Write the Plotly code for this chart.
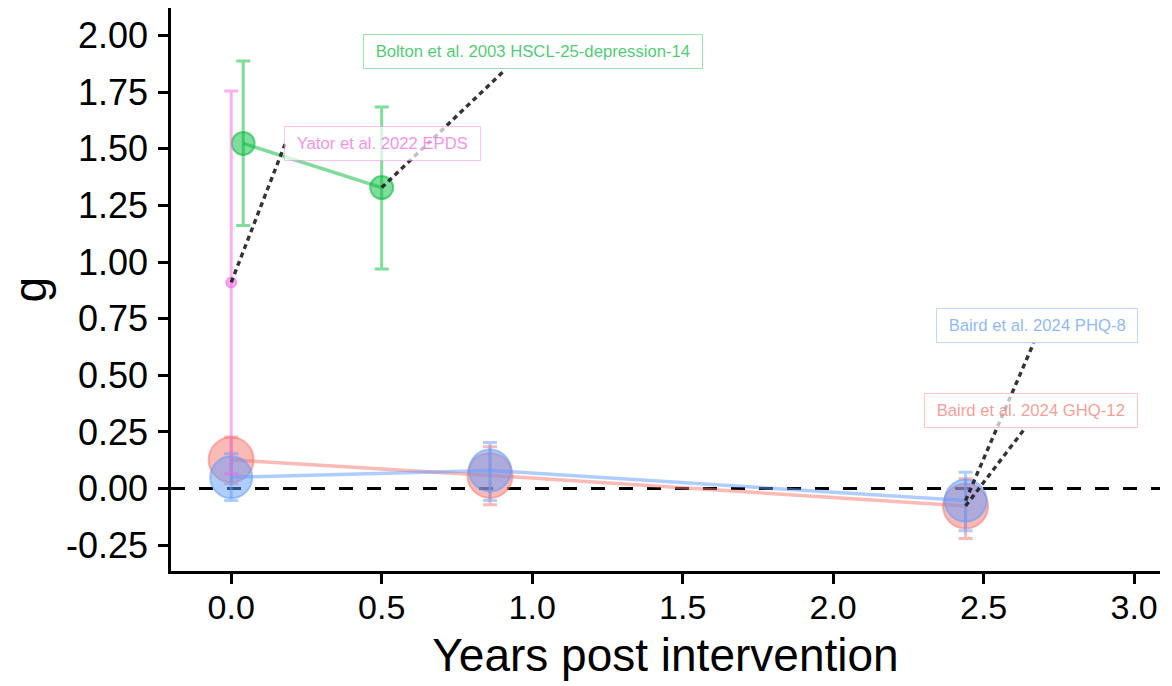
import plotly.graph_objects as go

# ---------------- data ----------------
years_ghq = [0.0, 0.86, 2.44]
g_ghq = [0.127, 0.058, -0.077]
lo_ghq = [0.021, -0.072, -0.220]
hi_ghq = [0.228, 0.185, 0.043]

years_phq = [0.0, 0.86, 2.44]
g_phq = [0.050, 0.080, -0.053]
lo_phq = [-0.053, -0.053, -0.186]
hi_phq = [0.154, 0.203, 0.072]

years_bolton = [0.04, 0.5]
g_bolton = [1.524, 1.329]
lo_bolton = [1.162, 0.970]
hi_bolton = [1.888, 1.685]

years_yator = [0.0]
g_yator = [0.910]
lo_yator = [0.065]
hi_yator = [1.755]

labels = ["Baird et al. 2024 GHQ-12", "Baird et al. 2024 PHQ-8",
          "Bolton et al. 2003 HSCL-25-depression-14", "Yator et al. 2022 EPDS"]

x_ticks = [0.0, 0.5, 1.0, 1.5, 2.0, 2.5, 3.0]
y_ticks = [-0.25, 0.0, 0.25, 0.5, 0.75, 1.0, 1.25, 1.5, 1.75, 2.0]

x_title = "Years post intervention"
y_title = "g"

# ---------------- style / layout constants ----------------
rgb = {"ghq": (248, 118, 109), "phq": (97, 156, 255),
       "bolton": (0, 186, 56), "yator": (245, 100, 227)}
msize = {"ghq": 45, "phq": 42, "bolton": 23, "yator": 10}
label_pos = {"ghq": (2.656, 0.344), "phq": (2.676, 0.718),
             "bolton": (1.003, 1.929), "yator": (0.503, 1.525)}
conn_end = {"ghq": (2.638, 0.267), "phq": (2.666, 0.642),
            "bolton": (0.91, 1.849), "yator": (0.179, 1.521)}

FONT = "Liberation Sans, Arial, Helvetica, sans-serif"
MARGIN_L = 171
PLOT_W = 1172 - MARGIN_L - 12


def rgba(c, a):
    return f"rgba({c[0]},{c[1]},{c[2]},{a})"


series = [
    ("ghq", years_ghq, g_ghq, lo_ghq, hi_ghq, labels[0]),
    ("phq", years_phq, g_phq, lo_phq, hi_phq, labels[1]),
    ("bolton", years_bolton, g_bolton, lo_bolton, hi_bolton, labels[2]),
    ("yator", years_yator, g_yator, lo_yator, hi_yator, labels[3]),
]

fig = go.Figure()

# zero reference line
fig.add_trace(go.Scatter(x=[-0.2, 3.1], y=[0, 0], mode="lines",
                         line=dict(color="black", width=3, dash="14px,14px"),
                         hoverinfo="skip", showlegend=False))

for key, xs, ys, lo, hi, name in series:
    c = rgb[key]
    fig.add_trace(go.Scatter(
        x=xs, y=ys, mode="lines+markers", name=name, showlegend=False,
        line=dict(color=rgba(c, 0.5), width=3.5),
        marker=dict(size=msize[key], color=rgba(c, 0.5),
                    line=dict(color=rgba(c, 0.55), width=2)),
        error_y=dict(type="data", symmetric=False,
                     array=[h - v for h, v in zip(hi, ys)],
                     arrayminus=[v - l for v, l in zip(ys, lo)],
                     color=rgba(c, 0.5), thickness=3, width=7),
    ))

annotations = []
for key, xs, ys, lo, hi, name in series:
    c = rgb[key]
    ex, ey = conn_end[key]
    fig.add_trace(go.Scatter(x=[xs[-1], ex], y=[ys[-1], ey], mode="lines",
                             line=dict(color="rgba(30,30,30,0.9)", width=3.4,
                                       dash="5px,4px"),
                             hoverinfo="skip", showlegend=False))
    lx, ly = label_pos[key]
    annotations.append(dict(
        x=lx, y=ly, xref="x", yref="y", text="&nbsp;" + name + "&nbsp;",
        showarrow=False, xanchor="center", yanchor="middle",
        font=dict(family=FONT, size=16.7, color=rgba(c, 0.72)),
        bgcolor="rgba(255,255,255,0.7)", bordercolor=rgba(c, 0.4),
        borderwidth=1, borderpad=7,
    ))

# y-axis title (rotated text left of the tick labels, kept inside the page)
annotations.append(dict(
    x=(1 - MARGIN_L) / PLOT_W, y=0.5, xref="paper", yref="paper", text=y_title,
    showarrow=False, textangle=-90, xanchor="left", yanchor="middle",
    font=dict(family=FONT, size=46, color="black"),
))

axis_common = dict(
    showline=True, linecolor="black", linewidth=2.5,
    ticks="outside", ticklen=10, tickwidth=2.5, tickcolor="black",
    showgrid=False, zeroline=False, mirror=False, automargin=False,
)

fig.update_layout(
    template="none",
    width=1172, height=686,
    margin=dict(l=MARGIN_L, r=12, t=8, b=115),
    paper_bgcolor="white", plot_bgcolor="white",
    showlegend=False,
    annotations=annotations,
    xaxis=dict(range=[-0.2, 3.086], tickvals=x_ticks,
               ticktext=[f"{v:.1f}" for v in x_ticks],
               tickfont=dict(family=FONT, size=34, color="black"),
               title=dict(text=x_title,
                          font=dict(family=FONT, size=46, color="black"),
                          standoff=15),
               ticklabelstandoff=-6,
               **axis_common),
    yaxis=dict(range=[-0.364, 2.122], tickvals=y_ticks,
               ticktext=[f"{v:.2f}" for v in y_ticks],
               tickfont=dict(family=FONT, size=36, color="black"),
               ticklabelstandoff=3,
               **axis_common),
)

fig.write_html("out.html")
